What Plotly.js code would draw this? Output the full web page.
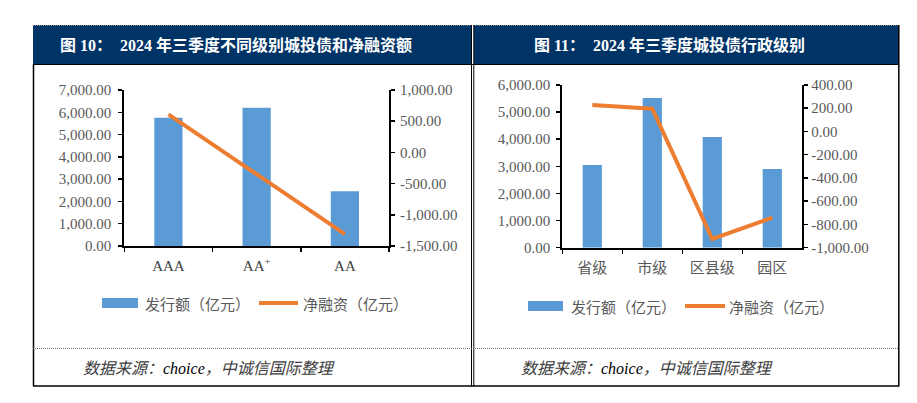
<!DOCTYPE html>
<html>
<head>
<meta charset="utf-8">
<script src="https://cdn.plot.ly/plotly-3.0.1.min.js"></script>
<style>html,body{margin:0;padding:0;background:#fff;}#chart{width:917px;height:403px;}</style>
</head>
<body>
<div id="chart"></div>
<script>
// ---- data ----
const ratingCats = ["AAA", "AA<sup>+</sup>", "AA"];
const ratingIssue = [5750, 6200, 2460];
const ratingNet = [610, -350, -1310];

const adminCats = ["省级", "市级", "区县级", "园区"];
const adminIssue = [3050, 5520, 4080, 2900];
const adminNet = [228, 196, -925, -741];

const issueTicks1 = [0, 1000, 2000, 3000, 4000, 5000, 6000, 7000];
const issueLabels1 = ["0.00", "1,000.00", "2,000.00", "3,000.00", "4,000.00", "5,000.00", "6,000.00", "7,000.00"];
const netTicks1 = [-1500, -1000, -500, 0, 500, 1000];
const netLabels1 = ["-1,500.00", "-1,000.00", "-500.00", "0.00", "500.00", "1,000.00"];

const issueTicks2 = [0, 1000, 2000, 3000, 4000, 5000, 6000];
const issueLabels2 = ["0.00", "1,000.00", "2,000.00", "3,000.00", "4,000.00", "5,000.00", "6,000.00"];
const netTicks2 = [-1000, -800, -600, -400, -200, 0, 200, 400];
const netLabels2 = ["-1,000.00", "-800.00", "-600.00", "-400.00", "-200.00", "0.00", "200.00", "400.00"];

const seriesNames = ["发行额（亿元）", "净融资（亿元）"];
const titles = ["图 10：  2024 年三季度不同级别城投债和净融资额", "图 11：  2024 年三季度城投债行政级别"];
const sourceText = "数据来源：<span style=\"fill:#000\">choice</span>，中诚信国际整理";

// ---- helpers ----
const W = 917, H = 403;
const px = x => x / W;
const py = y => 1 - y / H;

const BLUE = "#5B9BD5", ORANGE = "#ED7D31", NAVY = "#003366";
const SERIF = "Liberation Serif, Noto Sans CJK SC, serif";
const SANS = "Noto Sans CJK SC, sans-serif";
const TICKCOL = "#595959";

const traces = [
  {type: "bar", x: ratingCats, y: ratingIssue, xaxis: "x", yaxis: "y", marker: {color: BLUE}, name: seriesNames[0]},
  {type: "scatter", mode: "lines", x: ratingCats, y: ratingNet, xaxis: "x", yaxis: "y2", line: {color: ORANGE, width: 4}, name: seriesNames[1]},
  {type: "bar", x: adminCats, y: adminIssue, xaxis: "x2", yaxis: "y3", marker: {color: BLUE}, name: seriesNames[0]},
  {type: "scatter", mode: "lines", x: adminCats, y: adminNet, xaxis: "x2", yaxis: "y4", line: {color: ORANGE, width: 4}, name: seriesNames[1]}
];

function yAx(domain, range, tv, tt, side, extra) {
  return Object.assign({
    domain: domain, range: range, tickvals: tv, ticktext: tt, side: side,
    showgrid: false, zeroline: false, showline: true, linecolor: "#000", linewidth: 2,
    ticks: "outside", ticklen: 4, tickwidth: 1.5, tickcolor: "#000",
    tickfont: {family: SERIF, size: 15, color: TICKCOL}, fixedrange: true
  }, extra || {});
}
function xAx(domain, anchor, font) {
  return {
    domain: domain, anchor: anchor, type: "category", tickson: "boundaries",
    showgrid: false, zeroline: false, showline: true, linecolor: "#000", linewidth: 2,
    ticks: "outside", ticklen: 4, tickwidth: 1.5, tickcolor: "#000",
    tickfont: font, ticklabelstandoff: 5, fixedrange: true
  };
}

const d1y = [py(246), py(90)];
const d2y = [py(247.7), py(85)];

const shapes = [];
function rect(x0, y0, x1, y1, fill) {
  shapes.push({type: "rect", xref: "paper", yref: "paper", x0: px(x0), x1: px(x1), y0: py(y1), y1: py(y0), fillcolor: fill, line: {width: 0}, layer: "below"});
}
function line(x0, y0, x1, y1, color, width, dash) {
  shapes.push({type: "line", xref: "paper", yref: "paper", x0: px(x0), x1: px(x1), y0: py(y0), y1: py(y1), line: {color: color, width: width, dash: dash || "solid"}});
}
// header bands
rect(33, 25, 471, 64, NAVY);
rect(474, 25, 899, 64, NAVY);
line(33, 25.5, 899, 25.5, "#8a8a8a", 1, "1px,1px");
line(33, 64.5, 899, 64.5, "#000", 1);
// borders
line(33.5, 64, 33.5, 386, "#000", 1.5);
line(898.8, 25, 898.8, 386.5, "#000", 1.5);
line(471.5, 25, 471.5, 386.5, "#000", 1);
line(473.8, 25, 473.8, 386.5, "#000", 1);
line(33, 386, 899, 386, "#000", 1.5);
line(33, 348.5, 899, 348.5, "#6e6e6e", 1, "1px,1px");
// legends
rect(102, 298, 138, 308, BLUE);
line(259, 303, 298, 303, ORANGE, 4);
rect(528, 301, 563, 311, BLUE);
line(685, 306, 725, 306, ORANGE, 4);

const annotations = [];
function txt(x, y, text, font, anchor) {
  annotations.push({xref: "paper", yref: "paper", x: px(x), y: py(y), text: text, showarrow: false, xanchor: anchor || "left", yanchor: "middle", font: font});
}
const headFont = {family: SERIF, size: 16, color: "#fff"};
txt(58, 45, "<b>" + titles[0] + "</b>", headFont);
txt(532, 45, "<b>" + titles[1] + "</b>", headFont);
const legFont = {family: SANS, size: 15, color: TICKCOL};
txt(143, 303, seriesNames[0], legFont);
txt(301, 303, seriesNames[1], legFont);
txt(569, 306, seriesNames[0], legFont);
txt(727, 306, seriesNames[1], legFont);
const srcFont = {family: SERIF, size: 16, color: "#3c3c3c", style: "italic"};
txt(81, 368, "<i>" + sourceText + "</i>", srcFont);
txt(519, 368, "<i>" + sourceText + "</i>", srcFont);

const layout = {
  width: W, height: H, margin: {l: 0, r: 0, t: 0, b: 0},
  paper_bgcolor: "#fff", plot_bgcolor: "rgba(0,0,0,0)",
  showlegend: false, bargap: 0.68,
  xaxis: xAx([px(124.3), px(389)], "y", {family: SERIF, size: 15, color: "#404040"}),
  yaxis: yAx(d1y, [0, 7000], issueTicks1, issueLabels1, "left", {anchor: "x", ticklabelstandoff: 4}),
  yaxis2: yAx(d1y, [-1500, 1000], netTicks1, netLabels1, "right", {anchor: "x", overlaying: "y", ticklabelstandoff: 2}),
  xaxis2: xAx([px(562.3), px(802.3)], "y3", {family: SANS, size: 15, color: TICKCOL}),
  yaxis3: yAx(d2y, [0, 6000], issueTicks2, issueLabels2, "left", {anchor: "x2", ticklabelstandoff: 3}),
  yaxis4: yAx(d2y, [-1000, 400], netTicks2, netLabels2, "right", {anchor: "x2", overlaying: "y3", ticklabelstandoff: 0}),
  shapes: shapes, annotations: annotations
};

Plotly.newPlot("chart", traces, layout, {staticPlot: true, displayModeBar: false});
</script>
</body>
</html>
